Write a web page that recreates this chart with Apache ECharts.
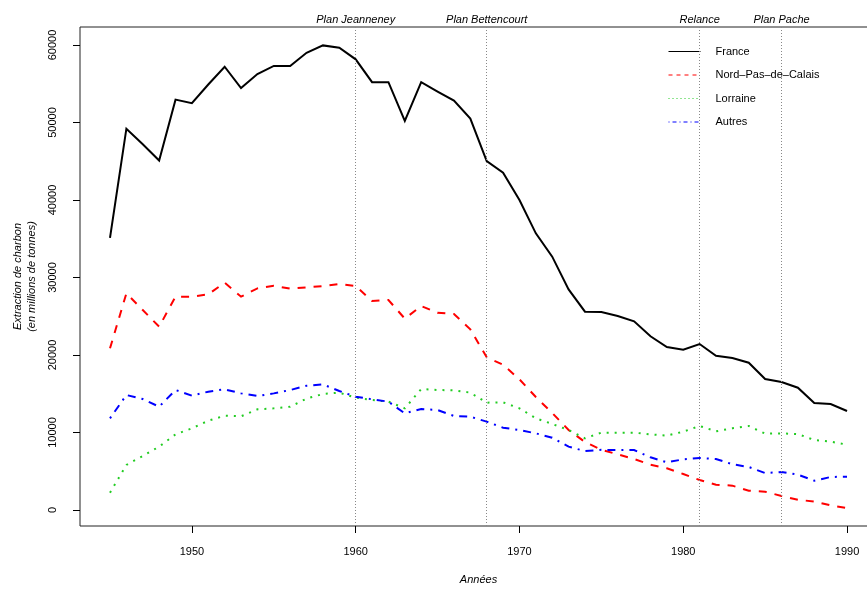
<!DOCTYPE html>
<html><head><meta charset="utf-8">
<script src="https://cdn.jsdelivr.net/npm/echarts@6/dist/echarts.min.js"></script>
<style>html,body{margin:0;padding:0;background:#fff}#c{width:867px;height:589px}</style>
</head><body><div id="c"></div>
<script>
const years = [];
for (let y = 1945; y <= 1990; y++) years.push(y);
const france = [35100,49200,47200,45100,52950,52500,54900,57200,54450,56250,
  57300,57300,59000,59950,59650,58150,55200,55200,50200,55200,
  53980,52820,50500,45030,43530,40000,35700,32690,28470,25590,
  25550,25030,24340,22410,21030,20690,21420,19910,19610,19010,
  16900,16520,15780,13800,13680,12770];
const nordPasDeCalais = [20860,27960,25800,23650,27530,27530,27830,29330,27530,28600,
  28940,28560,28730,28900,29160,28900,26970,27100,24690,26320,
  25460,25290,23310,19700,18750,16860,14580,12520,10320,8770,
  7780,7180,6580,5850,5380,4650,3870,3270,3140,2490,
  2360,1810,1330,1080,600,260];
const lorraine = [2240,5810,6970,8170,9760,10540,11520,12170,12090,12990,
  13120,13330,14370,14970,15140,14500,14190,13980,13120,15610,
  15480,15440,15140,13850,13890,13120,11830,11100,10320,9250,
  9980,9980,9980,9760,9590,10110,10840,10150,10540,10840,
  9850,9890,9800,9030,8820,8430];
const autres = [11830,14840,14320,13330,15480,14750,15270,15570,15050,14710,
  15050,15480,16040,16210,15350,14620,14280,13980,12470,13030,
  12900,12130,12040,11400,10620,10320,9890,9330,8170,7610,
  7760,7740,7740,6800,6150,6540,6710,6580,5900,5550,
  4770,4900,4560,3780,4260,4300];
const seriesNames = ['France','Nord\u2013Pas\u2013de\u2013Calais','Lorraine','Autres'];
const xTicks = [1950,1960,1970,1980,1990];
const yTicks = [0,10000,20000,30000,40000,50000,60000];
const eventYears = [1960,1968,1981,1986];
const eventLabels = ['Plan Jeanneney','Plan Bettencourt','Relance','Plan Pache'];

const FONT = 'Liberation Sans';
const pairs = arr => years.map((y,i)=>[y,arr[i]]);
const styles = [
  {color:'#000000', type:'solid', legendType:'solid'},
  {color:'#ff0000', type:[8,8], legendType:[4,4]},
  {color:'#22cc22', type:[2,6], legendType:[1,3]},
  {color:'#0000ff', type:[2,6,8,6], legendType:[1,3,4,3]}
];
const dataSets = [france, nordPasDeCalais, lorraine, autres];
const series = dataSets.map((d,i)=>({
  name: seriesNames[i], type:'line', data: pairs(d), symbol:'none',
  animation:false, silent:true,
  lineStyle:{color:styles[i].color, width:2, type:styles[i].type, cap:'butt', join:'miter'},
  itemStyle:{color:styles[i].color}
}));
series[0].markLine = {
  silent:true, symbol:'none', animation:false,
  lineStyle:{color:'#888', type:[1,2], width:1},
  label:{show:true, position:'end', distance:2, fontFamily:FONT, fontSize:11, fontStyle:'italic', color:'#000',
    formatter: p => p.name},
  data: eventYears.map((y,i)=>({xAxis:y, name:eventLabels[i]}))
};
const chart = echarts.init(document.getElementById('c'), null, {renderer:'canvas'});
chart.setOption({
  backgroundColor:'#fff',
  animation:false,
  grid:{left:80, top:27, right:-10, bottom:63, show:true, borderColor:'#222', borderWidth:1,
    backgroundColor:'transparent', containLabel:false, outerBoundsMode:'none'},
  legend:{
    orient:'vertical', left:663, top:41, itemWidth:32, itemHeight:12, itemGap:12.5,
    data: seriesNames.map((n,i)=>({
      name:n,
      itemStyle:{opacity:0},
      lineStyle:{color:styles[i].color, width:1, type:styles[i].legendType, opacity:1}
    })),
    textStyle:{fontFamily:FONT, fontSize:11, color:'#000', padding:[0,0,0,10]},
    itemStyle:{opacity:0},
    selectedMode:false
  },
  xAxis:{
    type:'value', min:1943.168, max:1991.83,
    name:'Ann\u00e9es', nameLocation:'middle', nameGap:48,
    nameTextStyle:{fontFamily:FONT, fontSize:11, fontStyle:'italic', color:'#000'},
    axisLine:{show:false, onZero:false},
    axisTick:{show:true, length:7, customValues:xTicks, lineStyle:{color:'#000'}},
    axisLabel:{customValues:xTicks, margin:20, fontFamily:FONT, fontSize:11, color:'#000', formatter: v => String(v)},
    splitLine:{show:false}
  },
  yAxis:{
    type:'value', min:-2064.5, max:62322.6,
    name:'Extraction de charbon\n(en millions de tonnes)', nameLocation:'middle', nameGap:41, nameRotate:90,
    nameTextStyle:{fontFamily:FONT, fontSize:11, fontStyle:'italic', color:'#000', lineHeight:14},
    axisLine:{show:false, onZero:false},
    axisTick:{show:true, length:7, customValues:yTicks, lineStyle:{color:'#000'}},
    axisLabel:{customValues:yTicks, rotate:90, margin:22, fontFamily:FONT, fontSize:11, color:'#000', formatter: v => String(v)},
    splitLine:{show:false}
  },
  series: series
});
</script></body></html>
